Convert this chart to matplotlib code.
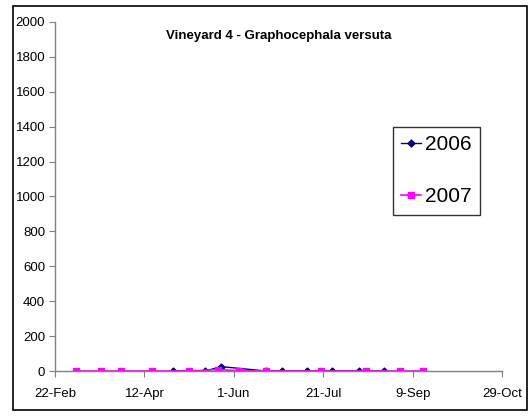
import datetime as dt

import matplotlib
matplotlib.use("Agg")
import matplotlib.pyplot as plt
from matplotlib.patches import Rectangle

# Sampling dates (day/month) and counts for each season
dates_2006 = ["28-Apr", "16-May", "25-May", "19-Jun", "28-Jun",
              "12-Jul", "26-Jul", "10-Aug", "24-Aug"]
counts_2006 = [0, 0, 25, 0, 0, 0, 0, 0, 0]

dates_2007 = ["5-Mar", "19-Mar", "30-Mar", "16-Apr", "7-May", "23-May",
              "4-Jun", "19-Jun", "20-Jul", "14-Aug", "2-Sep", "15-Sep"]
counts_2007 = [0, 0, 0, 0, 0, 8, 2, 0, 0, 0, 0, 0]

tick_labels = ["22-Feb", "12-Apr", "1-Jun", "21-Jul", "9-Sep", "29-Oct"]
y_ticks = list(range(0, 2001, 200))

# Excel-style day axis: a leap year keeps the 50-day tick spacing
YEAR = 2008


def to_date(s):
    return dt.datetime.strptime(f"{s}-{YEAR}", "%d-%b-%Y")


plt.rcParams["font.family"] = ["Liberation Sans", "DejaVu Sans"]

fig = plt.figure(figsize=(5.3, 4.16), dpi=100)
ax = fig.add_axes([55 / 530, 45 / 416, 447 / 530, 349 / 416])

ax.plot([to_date(d) for d in dates_2006], counts_2006, color="#000080",
        marker="D", markersize=3.5, linewidth=1, label="2006")
ax.plot([to_date(d) for d in dates_2007], counts_2007, color="#FF00FF",
        marker="s", markersize=5, linewidth=1.2, label="2007")

xt = [to_date(t) for t in tick_labels]
ax.set_xlim(xt[0], xt[-1])
ax.set_xticks(xt)
ax.set_xticklabels(tick_labels)
ax.set_ylim(0, 2000)
ax.set_yticks(y_ticks)

for side in ("top", "right"):
    ax.spines[side].set_visible(False)
for side in ("left", "bottom"):
    ax.spines[side].set_color("#808080")
    ax.spines[side].set_linewidth(1)
ax.tick_params(direction="out", length=4, color="#808080",
               labelsize=9.5, pad=3)
ax.tick_params(axis="x", pad=8)

ax.set_title("Vineyard 4 - Graphocephala versuta", fontsize=9.5,
             fontweight="bold", pad=0, y=0.95)

leg = ax.legend(loc="upper left", bbox_to_anchor=(0.756, 0.70),
                fontsize=15, handlelength=0.95, handletextpad=0.2,
                labelspacing=1.6, borderpad=0.4, frameon=True,
                fancybox=False, borderaxespad=0)
leg.get_frame().set_edgecolor("black")
leg.get_frame().set_linewidth(1)

fig.patches.append(Rectangle((13 / 530, 6 / 416), 514 / 530, 404 / 416,
                             transform=fig.transFigure, fill=False,
                             edgecolor="black", linewidth=1.2))

fig.savefig("out.png", dpi=100)
